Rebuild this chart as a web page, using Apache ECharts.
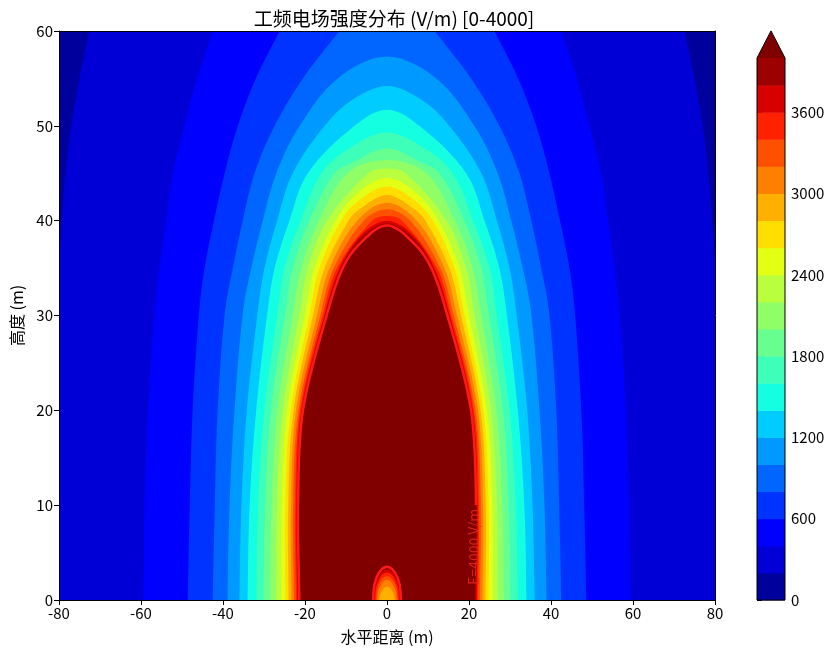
<!DOCTYPE html>
<html>
<head>
<meta charset="utf-8">
<script src="https://cdn.jsdelivr.net/npm/echarts@6/dist/echarts.min.js"></script>
<style>
  html, body { margin: 0; padding: 0; background: #fff; }
  #main { width: 830px; height: 650px; }
</style>
</head>
<body>
<div id="main"></div>
<script>
// contour levels (V/m), outermost first
const levels = [200, 400, 600, 800, 1000, 1200, 1400, 1600, 1800, 2000,
  2200, 2400, 2600, 2800, 3000, 3200, 3400, 3600, 3800, 4000];

const heights = [0, 10, 20, 30.5, 35, 40, 45, 50, 55, 60];

// half-width (m) of every contour at those heights, null = above its top
const halfWidths = [
  [88, 87.5, 86.5, 81.5, 80.2, 79.3, 78.4, 77, 75, 72.6],
  [59.4, 59.1, 58.3, 56.7, 55.5, 53.9, 52.2, 49.4, 46.3, 42.5],
  [48.6, 48.1, 47.4, 45.8, 44.5, 42.2, 39.6, 36.4, 32.0, 26.2],
  [42.5, 42.0, 41.3, 39.5, 37.6, 35.2, 32.3, 27.4, 20.5, 11.6],
  [38.9, 38.4, 37.2, 35.1, 33.1, 30.3, 27.0, 21.3, 12.0, null],
  [36.0, 35.5, 34.2, 31.5, 29.9, 26.8, 23.0, 15.2, null, null],
  [34.0, 33.5, 31.9, 29.1, 27.4, 23.8, 19.3, 7.9, null, null],
  [31.9, 31.4, 29.9, 26.6, 25.0, 21.0, 16.0, null, null, null],
  [30.1, 29.7, 28.3, 24.7, 23.0, 18.9, 12.8, null, null, null],
  [28.5, 28.1, 26.7, 22.8, 20.9, 16.6, 9.6, null, null, null],
  [27.0, 26.8, 25.4, 21.2, 19.3, 14.6, 4.5, null, null, null],
  [25.8, 25.7, 24.4, 19.8, 17.7, 12.6, null, null, null, null],
  [24.8, 24.8, 23.5, 18.7, 16.5, 11.2, null, null, null, null],
  [24.0, 24.1, 22.8, 17.8, 15.2, 9.4, null, null, null, null],
  [23.3, 23.4, 22.2, 16.8, 14.0, 7.3, null, null, null, null],
  [22.7, 22.9, 21.6, 16.0, 13.0, 5.7, null, null, null, null],
  [22.2, 22.4, 21.2, 15.4, 12.2, 3.7, null, null, null, null],
  [21.9, 22.1, 20.9, 15.0, 11.6, null, null, null, null, null],
  [21.6, 21.9, 20.7, 14.7, 11.2, null, null, null, null, null],
  [21.4, 21.7, 20.5, 14.4, 10.8, null, null, null, null, null]
];

// one extra [height, half-width] reading just under the top, where the rows are too sparse
const shoulders = [null, null, null, null, null, [52.7, 8.6], null, [47.8, 8.6],
  [46.1, 8.5], null, null, [43.0, 7.0], [42.1, 6.9], [41.2, 6.7], null, null, null,
  [38.5, 6.3], [38.2, 6.3], [37.5, 6.8]];

// top of each contour on x = 0 (null = it leaves through the top edge)
const tops = [null, null, null, null, 57.3, 54.2, 51.7, 49.3, 47.6, 46.4,
  45.5, 44.5, 43.6, 42.7, 41.9, 41.2, 40.5, 40.0, 39.7, 39.5];

// small low pocket at the bottom centre
const dipLevels = [4000, 3800, 3600, 3400, 3200, 3000];
const dipBase = [3.4, 3.2, 3.0, 2.7, 2.4, 1.9];   // half-width at y = 0
const dipMid = [2.6, 2.4, 2.2, 2.0, 1.7, 1.3];    // half-width at 2/3 height
const dipTops = [3.5, 3.2, 2.9, 2.5, 2.1, 1.4];

// jet, one colour per 200 V/m band, plus the "over" colour
const bandColors = ['#00009c', '#0000d6', '#0000ff', '#0033ff', '#0066ff',
  '#0099ff', '#00ccff', '#14ffe2', '#3dffb9', '#67ff90', '#90ff67', '#b9ff3d',
  '#e2ff14', '#ffde00', '#ffaf00', '#ff8000', '#ff5000', '#ff2100', '#d60000', '#9c0000'];
const overColor = '#800000';
const cbTicks = [0, 600, 1200, 1800, 2400, 3000, 3600];
const lineLabel = 'E=4000 V/m';
const labelY = 5.6;

const FONT = '"Noto Sans CJK SC", "Noto Sans", sans-serif';

function archPoints(i, api) {
  const w = halfWidths[i], top = tops[i];
  const right = [[w[0], -3]];
  for (let k = 0; k < heights.length && w[k] != null; k++) {
    right.push([w[k], heights[k]]);
  }
  if (shoulders[i]) right.push([shoulders[i][1], shoulders[i][0]]);
  let mid = [];
  if (top == null) {
    // carry on past the top edge so the clip hides the end
    const last = right[right.length - 1];
    const prev = right[right.length - 2];
    right.push([Math.max(0, 2 * last[0] - prev[0]), 2 * last[1] - prev[1]]);
  } else {
    mid = [[0, top]];
  }
  const left = right.slice().reverse().map(p => [-p[0], p[1]]);
  return right.concat(mid, left).map(p => api.coord(p));
}

function dipPoints(i, api) {
  const b = dipBase[i], m = dipMid[i], h = dipTops[i];
  const pts = [[b, -1], [b, 0], [m, h * 2 / 3], [0, h], [-m, h * 2 / 3], [-b, 0], [-b, -1]];
  return pts.map(p => api.coord(p));
}

const chart = echarts.init(document.getElementById('main'));

const option = {
  animation: false,
  backgroundColor: '#fff',
  title: {
    text: '工频电场强度分布 (V/m) [0-4000]',
    left: 389,
    textAlign: 'center',
    top: 4,
    textStyle: { fontFamily: FONT, fontSize: 19, fontWeight: 'normal', color: '#000' }
  },
  grid: [
    { left: 59, right: 115, top: 31, bottom: 50, show: true, backgroundColor: bandColors[0], borderWidth: 0 },
    { left: 757, width: 28, top: 58, bottom: 50 }
  ],
  xAxis: [
    {
      gridIndex: 0, type: 'value', min: -80, max: 80, interval: 20, z: 5,
      name: '水平距离 (m)', nameLocation: 'middle', nameGap: 29,
      nameTextStyle: { fontFamily: FONT, fontSize: 16, color: '#000' },
      axisLine: { onZero: false, lineStyle: { color: '#000', width: 1 } },
      axisTick: { length: 5, lineStyle: { color: '#000' } },
      axisLabel: { fontFamily: FONT, fontSize: 15, color: '#000', margin: 6 },
      splitLine: { show: false }
    },
    {
      gridIndex: 0, type: 'value', min: -80, max: 80, position: 'top', z: 5,
      axisLine: { show: true, onZero: false, lineStyle: { color: '#000' } },
      axisTick: { show: false }, axisLabel: { show: false }, splitLine: { show: false }
    },
    {
      gridIndex: 1, type: 'value', min: 0, max: 1, show: false
    }
  ],
  yAxis: [
    {
      gridIndex: 0, type: 'value', min: 0, max: 60, interval: 10, z: 5,
      name: '高度 (m)', nameLocation: 'middle', nameGap: 34,
      nameTextStyle: { fontFamily: FONT, fontSize: 16, color: '#000' },
      axisLine: { show: true, onZero: false, lineStyle: { color: '#000', width: 1 } },
      axisTick: { show: true, length: 5, lineStyle: { color: '#000' } },
      axisLabel: { fontFamily: FONT, fontSize: 15, color: '#000', margin: 6 },
      splitLine: { show: false }
    },
    {
      gridIndex: 0, type: 'value', min: 0, max: 60, position: 'right', z: 5,
      axisLine: { show: true, onZero: false, lineStyle: { color: '#000' } },
      axisTick: { show: false }, axisLabel: { show: false }, splitLine: { show: false }
    },
    {
      gridIndex: 1, type: 'value', min: 0, max: 4000, position: 'right',
      axisLine: { show: false },
      axisTick: { show: true, length: 5, customValues: cbTicks, lineStyle: { color: '#000' } },
      axisLabel: { fontFamily: FONT, fontSize: 15, color: '#000', margin: 6,
        customValues: cbTicks, formatter: v => String(v) },
      splitLine: { show: false }
    }
  ],
  series: [
    {
      // filled contour bands
      type: 'custom',
      xAxisIndex: 0, yAxisIndex: 0,
      clip: true, silent: true, z: 2,
      encode: { x: 0, y: 1 },
      data: levels.map(l => [0, 0, l]),
      renderItem: function (params, api) {
        const i = params.dataIndex;
        return {
          type: 'polygon',
          shape: { points: archPoints(i, api), smooth: 0.35 },
          style: { fill: i === levels.length - 1 ? overColor : bandColors[i + 1] }
        };
      }
    },
    {
      // the low pocket at the foot of the centre line
      type: 'custom',
      xAxisIndex: 0, yAxisIndex: 0,
      clip: true, silent: true, z: 3,
      encode: { x: 0, y: 1 },
      data: dipLevels.map(l => [0, 0, l]),
      renderItem: function (params, api) {
        const i = params.dataIndex;
        return {
          type: 'polygon',
          shape: { points: dipPoints(i, api), smooth: 0.45 },
          style: { fill: bandColors[dipLevels[i] / 200 - 1] }
        };
      }
    },
    {
      // E = 4000 V/m contour line with its inline label
      type: 'custom',
      xAxisIndex: 0, yAxisIndex: 0,
      clip: true, silent: true, z: 4,
      encode: { x: 0, y: 1 },
      data: [[0, 0, 4000]],
      renderItem: function (params, api) {
        const k = levels.indexOf(4000);
        const w = halfWidths[k];
        const arch = archPoints(k, api).slice(2);
        const labelPos = api.coord([(w[0] + w[1]) / 2 - 0.4, labelY]);
        return {
          type: 'group',
          children: [
            { type: 'polyline', shape: { points: arch, smooth: 0.35 },
              style: { stroke: '#ff1a1a', lineWidth: 2.5, fill: null } },
            { type: 'polyline', shape: { points: dipPoints(0, api), smooth: 0.45 },
              style: { stroke: '#ff1a1a', lineWidth: 2.5, fill: null } },
            { type: 'text', x: labelPos[0], y: labelPos[1], rotation: Math.PI / 2,
              style: { text: lineLabel, fill: '#e8261e', opacity: 0.85,
                font: '14px ' + FONT, align: 'center', verticalAlign: 'middle' } }
          ]
        };
      }
    },
    {
      // colour bar
      type: 'custom',
      xAxisIndex: 2, yAxisIndex: 2,
      clip: false, silent: true,
      encode: { x: 0, y: 1 },
      data: bandColors.map((c, k) => [0, levels[k] - 200, levels[k]]),
      renderItem: function (params, api) {
        const k = params.dataIndex;
        const p0 = api.coord([0, levels[k] - 200]);
        const p1 = api.coord([1, levels[k]]);
        const children = [{
          type: 'rect',
          shape: { x: p0[0], y: p1[1], width: p1[0] - p0[0], height: p0[1] - p1[1] + 0.5 },
          style: { fill: bandColors[k] }
        }];
        if (k === bandColors.length - 1) {
          const top = levels[k] * 1.05;
          children.push({
            type: 'polygon',
            shape: { points: [api.coord([0, levels[k]]), api.coord([0.5, top]), api.coord([1, levels[k]])] },
            style: { fill: overColor }
          });
          children.push({
            type: 'polygon',
            shape: { points: [api.coord([0, 0]), api.coord([0, levels[k]]), api.coord([0.5, top]),
              api.coord([1, levels[k]]), api.coord([1, 0])] },
            style: { fill: null, stroke: '#000', lineWidth: 1 },
            z2: 10
          });
        }
        return { type: 'group', children: children };
      }
    }
  ]
};

chart.setOption(option);
</script>
</body>
</html>
